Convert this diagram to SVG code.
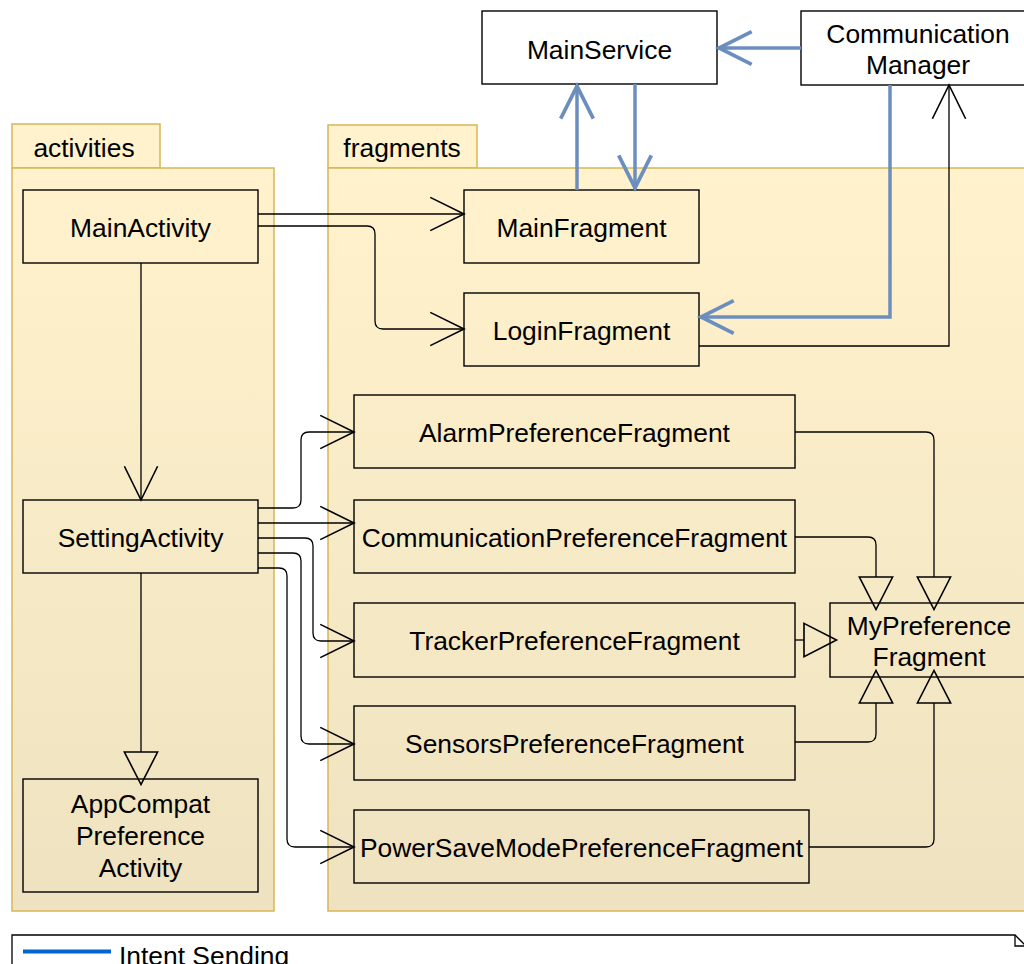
<svg xmlns="http://www.w3.org/2000/svg" width="1024" height="964" viewBox="0 0 1024 964">
<style>
text{font-family:"Liberation Sans",Arial,Helvetica,sans-serif;font-size:26.4px;fill:#000;}
.pkg{fill:url(#pkgGrad);stroke:#d6b656;stroke-width:1.5;}
.tab{fill:#fff2cc;stroke:#d6b656;stroke-width:1.5;}
.node{fill:none;stroke:#000;stroke-width:1.4;}
.wnode{fill:#fff;stroke:#000;stroke-width:1.4;}
.c{fill:none;stroke:#000;stroke-width:1.3;}
.b{fill:none;stroke:#6c8ebf;stroke-width:3.5;}
.open{marker-end:url(#openArrow);}
.tri{marker-end:url(#hollowTri);}
.bo{marker-end:url(#blueArrow);}
</style>
<defs>
<linearGradient id="pkgGrad" x1="0" y1="0" x2="0" y2="1">
<stop offset="0" stop-color="#fff2cc"/>
<stop offset="1" stop-color="#efe2c0"/>
</linearGradient>
<marker id="openArrow" markerUnits="userSpaceOnUse" orient="auto" markerWidth="40" markerHeight="40" viewBox="-30 -16 32 32" refX="0" refY="0" overflow="visible">
<path d="M-27,-13.3 L0,0 L-27,13.3" fill="none" stroke="#000" stroke-width="1.3"/>
</marker>
<marker id="hollowTri" markerUnits="userSpaceOnUse" orient="auto" markerWidth="40" markerHeight="40" viewBox="-2 -16 32 32" refX="0" refY="0" overflow="visible">
<path d="M0,-13.3 L26,0 L0,13.3 Z" fill="none" stroke="#000" stroke-width="1.3"/>
</marker>
<marker id="blueArrow" markerUnits="userSpaceOnUse" orient="auto" markerWidth="40" markerHeight="40" viewBox="-36 -18 38 36" refX="0" refY="0" overflow="visible">
<path d="M-32,-15.5 L-1,0 L-32,15.5" fill="none" stroke="#6c8ebf" stroke-width="3.5"/>
</marker>
</defs>

<g id="pkg-activities">
<rect class="tab" x="12" y="124" width="148" height="44"/>
<rect class="pkg" x="12" y="168" width="262" height="743"/>
<text x="84" y="157" text-anchor="middle">activities</text>
</g>
<g id="pkg-fragments">
<rect class="tab" x="328" y="125" width="149" height="43"/>
<rect class="pkg" x="328" y="168" width="710" height="743"/>
<text x="402" y="157" text-anchor="middle">fragments</text>
</g>

<g id="MainService">
<rect class="wnode" x="482" y="11" width="235" height="73"/>
<text x="599.5" y="58.5" text-anchor="middle">MainService</text>
</g>
<g id="CommunicationManager">
<rect class="wnode" x="801" y="11" width="234" height="74"/>
<text x="918" y="43" text-anchor="middle">Communication</text>
<text x="918" y="74" text-anchor="middle">Manager</text>
</g>
<g id="MainActivity">
<rect class="node" x="23" y="190" width="235" height="73"/>
<text x="140.5" y="237" text-anchor="middle">MainActivity</text>
</g>
<g id="MainFragment">
<rect class="node" x="464" y="190" width="235" height="73"/>
<text x="581.5" y="237" text-anchor="middle">MainFragment</text>
</g>
<g id="LoginFragment">
<rect class="node" x="464" y="293" width="235" height="73"/>
<text x="581.5" y="340" text-anchor="middle">LoginFragment</text>
</g>
<g id="SettingActivity">
<rect class="node" x="23" y="500" width="235" height="73"/>
<text x="140.5" y="547" text-anchor="middle">SettingActivity</text>
</g>
<g id="AppCompatPreferenceActivity">
<rect class="node" x="23" y="779" width="235" height="113"/>
<text x="140.5" y="813" text-anchor="middle">AppCompat</text>
<text x="140.5" y="845" text-anchor="middle">Preference</text>
<text x="140.5" y="877" text-anchor="middle">Activity</text>
</g>
<g id="AlarmPreferenceFragment">
<rect class="node" x="354" y="395" width="441" height="73"/>
<text x="574.5" y="442" text-anchor="middle">AlarmPreferenceFragment</text>
</g>
<g id="CommunicationPreferenceFragment">
<rect class="node" x="354" y="500" width="441" height="73"/>
<text x="574.5" y="547" text-anchor="middle">CommunicationPreferenceFragment</text>
</g>
<g id="TrackerPreferenceFragment">
<rect class="node" x="354" y="603" width="441" height="74"/>
<text x="574.5" y="650" text-anchor="middle">TrackerPreferenceFragment</text>
</g>
<g id="SensorsPreferenceFragment">
<rect class="node" x="354" y="706" width="441" height="74"/>
<text x="574.5" y="753" text-anchor="middle">SensorsPreferenceFragment</text>
</g>
<g id="PowerSaveModePreferenceFragment">
<rect class="node" x="354" y="810" width="455" height="73"/>
<text x="581.5" y="857" text-anchor="middle">PowerSaveModePreferenceFragment</text>
</g>
<g id="MyPreferenceFragment">
<rect class="node" x="830" y="603" width="198" height="74"/>
<text x="929" y="635" text-anchor="middle">MyPreference</text>
<text x="929" y="666" text-anchor="middle">Fragment</text>
</g>

<g id="connectors">
<path class="c open" d="M258,214 H464"/>
<path class="c open" d="M258,226 H367 Q375,226 375,234 V321 Q375,329 383,329 H464"/>
<path class="c open" d="M141,263 V500"/>
<path class="c tri" d="M141,573 V752"/>
<path class="c open" d="M258,508 H293 Q301,508 301,500 V440 Q301,432 309,432 H354"/>
<path class="c open" d="M258,523 H354"/>
<path class="c open" d="M258,538 H305 Q313,538 313,546 V633 Q313,641 321,641 H354"/>
<path class="c open" d="M258,553 H293 Q301,553 301,561 V736 Q301,744 309,744 H354"/>
<path class="c open" d="M258,568 H279 Q287,568 287,576 V839 Q287,847 295,847 H354"/>
<path class="c tri" d="M795,432 H926 Q934,432 934,440 V577"/>
<path class="c tri" d="M795,537 H868 Q876,537 876,545 V577"/>
<path class="c tri" d="M795,640 H804"/>
<path class="c tri" d="M795,742 H868 Q876,742 876,734 V703"/>
<path class="c tri" d="M809,847 H926 Q934,847 934,839 V703"/>
<path class="c open" d="M699,346 H949 V85"/>
<path class="b bo" d="M801,48 H718"/>
<path class="b bo" d="M577,190 V85"/>
<path class="b bo" d="M635,84 V189"/>
<path class="b bo" d="M890,85 V317 H700"/>
</g>

<g id="legend">
<path d="M12,935 H1015 L1026,946 V975 H12 Z" fill="#fff" stroke="#000" stroke-width="1.3"/>
<path d="M1015,935 V946 H1026" fill="none" stroke="#000" stroke-width="1.3"/>
<path d="M23,951.5 H111" stroke="#0066cc" stroke-width="4"/>
<text x="119" y="965">Intent Sending</text>
</g>
</svg>
